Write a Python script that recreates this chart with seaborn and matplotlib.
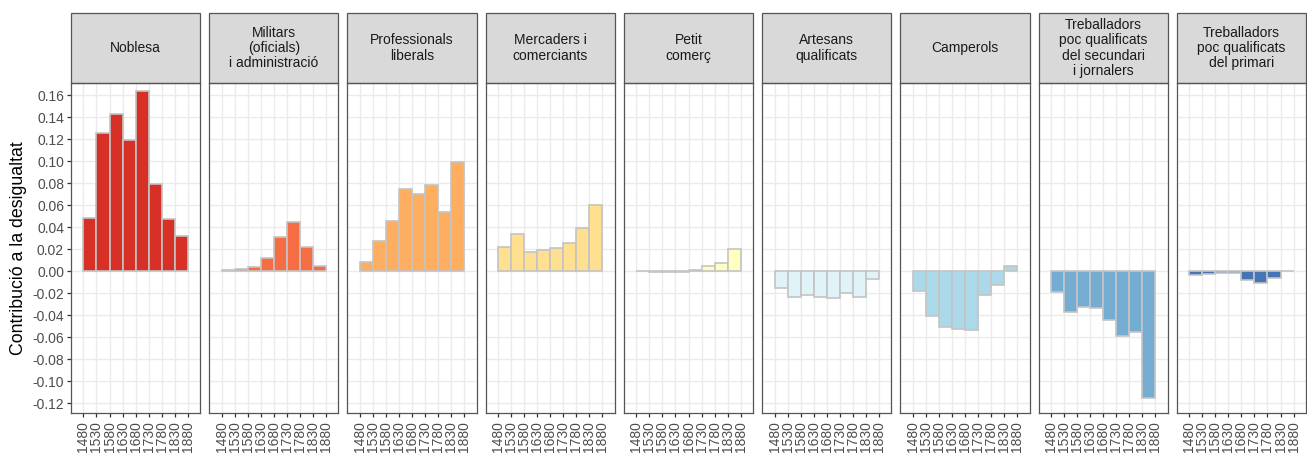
import numpy as np
import pandas as pd
import matplotlib
matplotlib.use('Agg')
import matplotlib.pyplot as plt
from matplotlib.patches import Rectangle
import seaborn as sns

# データ
groups = ['Noblesa', 'Militars\n(oficials)\ni administració', 'Professionals\nliberals',
          'Mercaders i\ncomerciants', 'Petit\ncomerç', 'Artesans\nqualificats', 'Camperols',
          'Treballadors\npoc qualificats\ndel secundari\ni jornalers',
          'Treballadors\npoc qualificats\ndel primari']
colors = ['#D73027', '#F46D43', '#FDAE61', '#FEE090', '#FFFFBF',
          '#E0F3F8', '#ABD9E9', '#74ADD1', '#4575B4']
period_start = [1480, 1530, 1580, 1630, 1680, 1730, 1780, 1830]
tick_years = [1480, 1530, 1580, 1630, 1680, 1730, 1780, 1830, 1880]

noblesa = [0.0485, 0.126, 0.1424, 0.119, 0.1636, 0.0794, 0.0473, 0.032]
militars = [0.001, 0.0018, 0.004, 0.0118, 0.031, 0.0442, 0.022, 0.005]
professionals = [0.0082, 0.027, 0.046, 0.0742, 0.0697, 0.0785, 0.0533, 0.0988]
mercaders = [0.0218, 0.0336, 0.017, 0.0188, 0.0209, 0.026, 0.0394, 0.0597]
petit = [0.0002, -0.0005, -0.0005, -0.0005, 0.0012, 0.0045, 0.007, 0.0197]
artesans = [-0.0158, -0.0236, -0.0215, -0.0233, -0.0245, -0.0203, -0.0233, -0.0076]
camperols = [-0.018, -0.0406, -0.0506, -0.053, -0.0536, -0.0221, -0.0127, 0.005]
secundari = [-0.019, -0.0373, -0.033, -0.0336, -0.0445, -0.059, -0.0558, -0.115]
primari = [-0.0036, -0.0027, -0.002, -0.002, -0.0082, -0.0112, -0.0067, 0.0005]
series = [noblesa, militars, professionals, mercaders, petit, artesans, camperols, secundari, primari]

sns.set_theme(style='white')
plt.rcParams['font.family'] = ['Liberation Sans', 'DejaVu Sans']

W, H = 1307, 453
fig, axes = plt.subplots(1, 9, figsize=(W / 100, H / 100), dpi=100, sharey=True)
fig.subplots_adjust(left=71 / W, right=1306 / W, top=1 - 83 / H, bottom=1 - 413 / H, wspace=9 / 129)

for i, ax in enumerate(axes):
    df = pd.DataFrame({'inici': period_start, 'valor': series[i]})
    df['centre'] = df['inici'] + 25  # 各期間の中央
    sns.barplot(data=df, x='centre', y='valor', native_scale=True, width=1.0,
                color=colors[i], saturation=1, edgecolor='#C4C4C4', linewidth=1.2,
                errorbar=None, ax=ax, zorder=3)
    ax.set_xlim(1432.5, 1927.5)
    ax.set_ylim(-0.129, 0.171)
    ax.set_xticks(tick_years)
    ax.set_xticklabels([str(y) for y in tick_years], rotation=90, fontsize=10, color='#4D4D4D')
    ax.set_yticks(np.arange(-0.12, 0.161, 0.02))
    ax.set_yticklabels([f'{v:.2f}' for v in np.arange(-0.12, 0.161, 0.02)], fontsize=10, color='#4D4D4D')
    ax.grid(True, color='#EBEBEB', linewidth=1.0, zorder=0)
    ax.set_axisbelow(True)
    ax.set_xlabel('')
    ax.set_ylabel('')
    for s in ax.spines.values():
        s.set_color('#555555')
        s.set_linewidth(0.9)
    ax.tick_params(axis='x', bottom=True, length=3, width=0.9, color='#333333', pad=3)
    ax.tick_params(axis='y', left=(i == 0), length=3, width=0.9, color='#333333', pad=2)
    # ストリップ
    strip_h = 70 / 330
    ax.add_patch(Rectangle((0, 1), 1, strip_h, transform=ax.transAxes, clip_on=False,
                           facecolor='#D9D9D9', edgecolor='#555555', linewidth=0.9))
    ax.text(0.5, 1 + strip_h / 2, groups[i], transform=ax.transAxes, ha='center', va='center',
            fontsize=10, color='#1A1A1A', linespacing=1.1)

axes[0].set_ylabel('Contribució a la desigualtat', fontsize=12.8, color='black', labelpad=4)

plt.savefig('out.png', dpi=100)
